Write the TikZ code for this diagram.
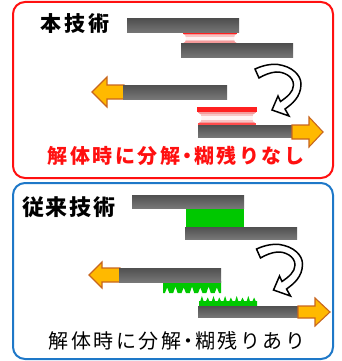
\documentclass[tikz,border=0pt]{standalone}
\usepackage{fontspec}
\newfontfamily\jp{Noto Sans CJK JP}
\definecolor{barTop}{HTML}{505050}
\definecolor{barBot}{HTML}{777777}
\definecolor{orFill}{HTML}{FFB900}
\definecolor{orLine}{HTML}{C8661E}
\definecolor{glue}{HTML}{00C800}
\definecolor{boxRed}{HTML}{FF1010}
\definecolor{boxBlue}{HTML}{1E78C8}
\definecolor{redGlue}{HTML}{FF2020}
\definecolor{pinkA}{HTML}{F59A9A}
\definecolor{pinkB}{HTML}{F8C4C4}
\definecolor{pinkC}{HTML}{FFF2F2}
\newcommand{\gp}{\hspace{2.5pt}}
\begin{document}
\begin{tikzpicture}[x=1pt,y=-1pt,
  bar/.style={top color=barTop,bottom color=barBot,draw=none},
  pull/.style={fill=orFill,draw=orLine,line width=1.1pt,line join=miter},
  turn/.style={fill=white,draw=black,line width=1.5pt,line join=miter},
  panel/.style={rounded corners=12pt,line width=2pt},
  ttl/.style={font=\jp\bfseries\fontsize{21}{24}\selectfont,inner sep=0pt},
  captext/.style={font=\jp\fontsize{20}{24}\selectfont,inner sep=0pt}]
\useasboundingbox (0,0) rectangle (342,361);

% panels
\draw[panel,boxRed] (13,2) rectangle (333,178);
\draw[panel,boxBlue] (13,183) rectangle (333,359);

% ---------- top panel ----------
\node[ttl] (t1) at (75,24) {本\hspace{3pt}技\hspace{3pt}術};
% adhesive 1 (striped)
\fill[redGlue] (183,32) rectangle (237,34);
\fill[pinkA] (183,34) rectangle (237,35.5);
\fill[pinkB] (183,35.5) rectangle (237,37);
\fill[pinkC] (183,37) rectangle (237,40);
\fill[pinkB] (183,40) rectangle (237,41.5);
\fill[pinkA] (183,41.5) rectangle (237,43);
\fill[redGlue] (183,43) rectangle (237,45);
\fill[white] (183,38.5) ellipse [x radius=3pt,y radius=4.5pt];
\fill[white] (237,38.5) ellipse [x radius=3pt,y radius=4.5pt];
\shade[bar] (127,19) rectangle (239,33);
\shade[bar] (181,44) rectangle (293,58);
% turning arrow
\path[turn] (255,69) .. controls (265,64.5) and (272,64) .. (278,64.5)
  .. controls (292,66.5) and (301,75) .. (301,84)
  .. controls (301,97) and (292,104) .. (285,109)
  -- (289,116) -- (272,110) -- (278,96) -- (280.5,101.5)
  .. controls (287,97) and (293.5,92) .. (293.5,85)
  .. controls (293.5,76) and (283,71.5) .. (276,72)
  .. controls (270,72.5) and (264,75) .. (259,78) -- cycle;
% left pulled part
\draw[pull] (92,92) -- (107,77) -- (107,85) -- (124,85) -- (124,99) -- (107,99) -- (107,107) -- cycle;
\shade[bar] (123,85) rectangle (227,99);
% adhesive 2 (striped)
\fill[redGlue] (197,107) rectangle (257,111.5);
\fill[pinkA] (198,111.5) rectangle (256,113.5);
\fill[pinkB] (198,113.5) rectangle (256,115.5);
\fill[pinkC] (198,115.5) rectangle (256,119.5);
\fill[pinkB] (198,119.5) rectangle (256,121.5);
\fill[pinkA] (198,121.5) rectangle (256,123.3);
\fill[redGlue!80] (198,123.3) rectangle (256,125);
\fill[white] (198.5,118) ellipse [x radius=3pt,y radius=5pt];
\fill[white] (255.5,118) ellipse [x radius=3pt,y radius=5pt];
\shade[bar] (198,125) rectangle (293,137);
\draw[pull] (292,125) -- (309,125) -- (309,117) -- (323,132) -- (309,147) -- (309,139) -- (292,139) -- cycle;
\node[captext,font=\jp\bfseries\fontsize{20}{24}\selectfont,text=boxRed] (c1) at (176,156)
  {解\gp 体\gp 時\gp に\gp 分\gp 解\hspace{-3pt}・\hspace{-3pt}糊\gp 残\gp り\gp な\gp し};

% ---------- bottom panel ----------
\node[ttl,font=\jp\bfseries\fontsize{22}{24}\selectfont] (t2) at (69,207) {従\hspace{2pt}来\hspace{2pt}技\hspace{2pt}術};
\fill[glue] (186,207) rectangle (244,228);
\shade[bar] (132,195) rectangle (244,208);
\shade[bar] (185,227) rectangle (297,239);
\begin{scope}[shift={(1.5,180)}]
\path[turn] (255,69) .. controls (265,64.5) and (272,64) .. (278,64.5)
  .. controls (292,66.5) and (301,75) .. (301,84)
  .. controls (301,97) and (292,104) .. (285,109)
  -- (289,116) -- (272,110) -- (278,96) -- (280.5,101.5)
  .. controls (287,97) and (293.5,92) .. (293.5,85)
  .. controls (293.5,76) and (283,71.5) .. (276,72)
  .. controls (270,72.5) and (264,75) .. (259,78) -- cycle;
\end{scope}
\draw[pull] (89,275) -- (102,262) -- (102,268) -- (120,268) -- (120,282) -- (102,282) -- (102,288) -- cycle;
% torn glue, upper part: narrow white notches rising from the bottom
\fill[glue] (163,281) -- (221,281) -- (221,293)
  \foreach \i in {1,...,7} { -- ({221-(\i-0.5)*58/7+2.2},293) -- ({221-(\i-0.5)*58/7},{286.5+mod(\i,2)}) -- ({221-(\i-0.5)*58/7-2.2},293) } -- (163,293) -- cycle;
\shade[bar] (119,268) rectangle (221,282);
% torn glue, lower part: narrow green spikes rising from the top
\fill[glue] (199,307) -- (257,307) -- (257,301)
  \foreach \i in {1,...,10} { -- ({257-(\i-0.5)*5.8+1.6},301) -- ({257-(\i-0.5)*5.8},{296+1.5*mod(\i,2)}) -- ({257-(\i-0.5)*5.8-1.6},301) } -- (199,301) -- cycle;
\shade[bar] (198,306) rectangle (299,317.5);
\draw[pull] (298,306) -- (315,306) -- (315,298) -- (330,312) -- (315,326) -- (315,318) -- (298,318) -- cycle;
\node[captext] (c2) at (177,341)
  {解\gp 体\gp 時\gp に\gp 分\gp 解\hspace{-3pt}・\hspace{-3pt}糊\gp 残\gp り\gp あ\gp り};
\end{tikzpicture}
\end{document}
